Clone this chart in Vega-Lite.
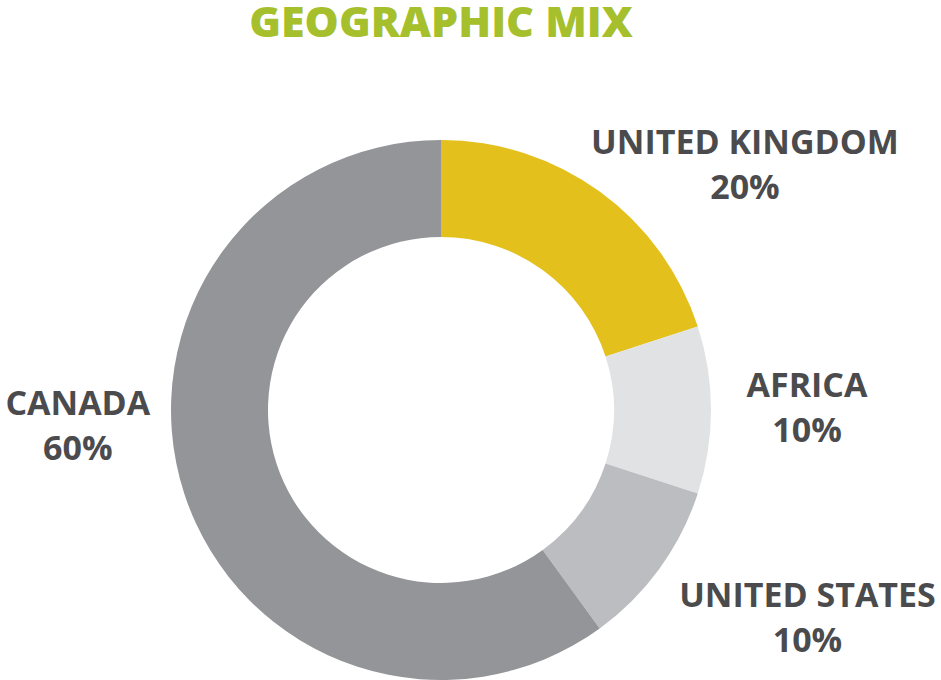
{
  "$schema": "https://vega.github.io/schema/vega-lite/v6.json",
  "width": 882,
  "height": 540,
  "autosize": "none",
  "padding": {"left": 0, "top": 140, "right": 59, "bottom": 0},
  "background": "white",
  "title": {
    "text": "GEOGRAPHIC MIX",
    "font": "Open Sans",
    "fontSize": 43,
    "fontWeight": 800,
    "color": "#a6c02d",
    "anchor": "middle",
    "baseline": "alphabetic",
    "offset": 47
  },
  "view": {"stroke": null},
  "data": {
    "values": [
      {"region": "UNITED KINGDOM", "share": 20},
      {"region": "AFRICA", "share": 10},
      {"region": "UNITED STATES", "share": 10},
      {"region": "CANADA", "share": 60}
    ]
  },
  "transform": [
    {"stack": "share", "groupby": [], "as": ["s0", "s1"]},
    {"calculate": "(datum.s0 + datum.s1) / 2", "as": "mid"},
    {"calculate": "[datum.region, datum.share + '%']", "as": "label"}
  ],
  "layer": [
    {
      "mark": {"type": "arc", "innerRadius": 173, "outerRadius": 270},
      "encoding": {
        "theta": {"field": "s0", "type": "quantitative", "scale": {"domain": [0, 100]}},
        "theta2": {"field": "s1"},
        "color": {
          "field": "region",
          "type": "nominal",
          "scale": {
            "domain": ["UNITED KINGDOM", "AFRICA", "UNITED STATES", "CANADA"],
            "range": ["#e3c01b", "#e1e2e3", "#bcbdc0", "#939598"]
          },
          "legend": null
        }
      }
    },
    {
      "transform": [{"filter": "datum.region == 'UNITED KINGDOM'"}],
      "mark": {"type": "text", "radius": 364, "font": "Open Sans", "fontSize": 34, "fontWeight": "bold", "color": "#4b4b4d", "align": "center", "baseline": "middle", "lineHeight": 45, "dx": 90, "dy": 28},
      "encoding": {
        "theta": {"field": "mid", "type": "quantitative", "scale": {"domain": [0, 100]}},
        "text": {"field": "label"}
      }
    },
    {
      "transform": [{"filter": "datum.region == 'AFRICA'"}],
      "mark": {"type": "text", "radius": 364, "font": "Open Sans", "fontSize": 34, "fontWeight": "bold", "color": "#4b4b4d", "align": "center", "baseline": "middle", "lineHeight": 45, "dx": 2, "dy": -23},
      "encoding": {
        "theta": {"field": "mid", "type": "quantitative", "scale": {"domain": [0, 100]}},
        "text": {"field": "label"}
      }
    },
    {
      "transform": [{"filter": "datum.region == 'UNITED STATES'"}],
      "mark": {"type": "text", "radius": 364, "font": "Open Sans", "fontSize": 34, "fontWeight": "bold", "color": "#4b4b4d", "align": "center", "baseline": "middle", "lineHeight": 45, "dx": 72, "dy": -27},
      "encoding": {
        "theta": {"field": "mid", "type": "quantitative", "scale": {"domain": [0, 100]}},
        "text": {"field": "label"}
      }
    },
    {
      "transform": [{"filter": "datum.region == 'CANADA'"}],
      "mark": {"type": "text", "radius": 364, "font": "Open Sans", "fontSize": 34, "fontWeight": "bold", "color": "#4b4b4d", "align": "center", "baseline": "middle", "lineHeight": 45, "dx": -17, "dy": -117},
      "encoding": {
        "theta": {"field": "mid", "type": "quantitative", "scale": {"domain": [0, 100]}},
        "text": {"field": "label"}
      }
    }
  ]
}
